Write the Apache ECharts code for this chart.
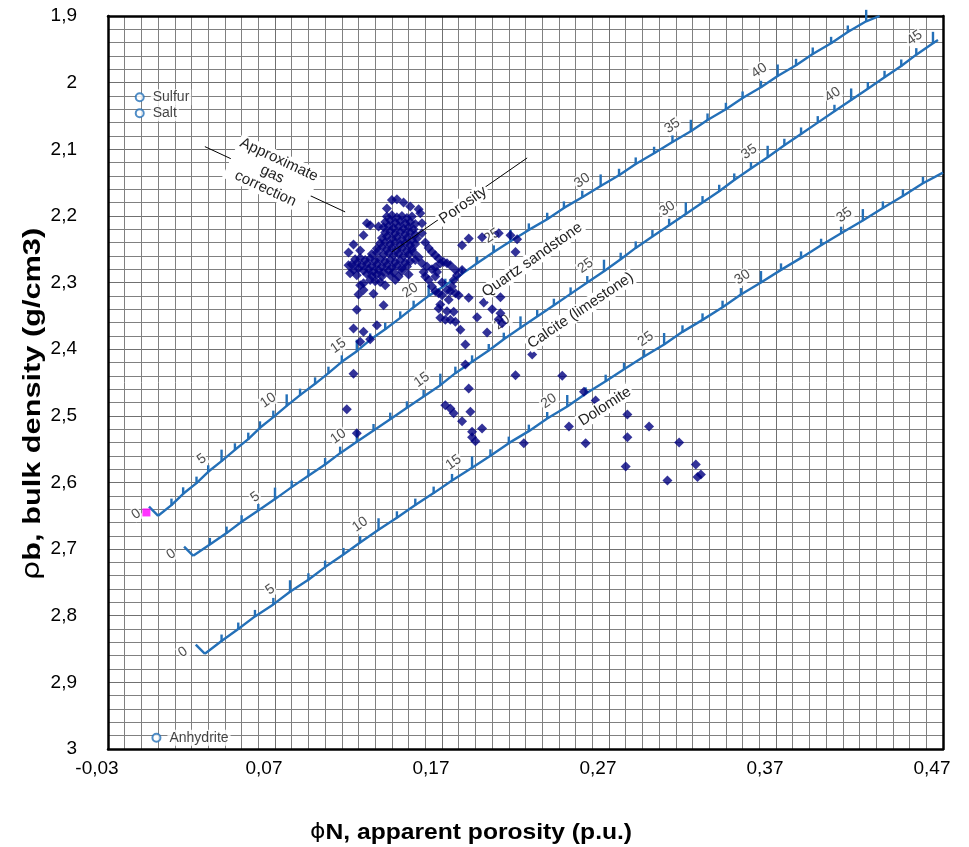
<!DOCTYPE html>
<html><head><meta charset="utf-8">
<script src="https://cdn.jsdelivr.net/npm/echarts@6/dist/echarts.min.js"></script>
<style>html,body{margin:0;padding:0;background:#fff}#c{width:969px;height:847px}</style>
</head><body><div id="c"></div>
<script>
// ---- axis ranges (values) ----
const xMin = -0.03, xMax = 0.47, xStep = 0.1;
const yMin = 1.9, yMax = 3.0, yStep = 0.1;

// ---- measured samples: [phiN, rhoB] ----
const samplesSparse = [
[0.242,2.440],[0.255,2.464],[0.262,2.477],[0.271,2.487],[0.281,2.498],[0.246,2.516],[0.294,2.516],[0.281,2.532],[0.256,2.541],[0.312,2.540],[0.280,2.576],[0.322,2.573],[0.325,2.588],[0.323,2.592],[0.305,2.597],
[0.168,2.339],[0.169,2.353],[0.172,2.356],[0.175,2.356],[0.178,2.359],[0.177,2.344],[0.191,2.352],[0.195,2.330],[0.200,2.340],[0.205,2.346],[0.204,2.355],[0.206,2.361],[0.181,2.371],[0.197,2.375],[0.184,2.393],[0.184,2.423],[0.224,2.408],[0.214,2.439],[0.186,2.459],[0.172,2.484],[0.175,2.489],[0.177,2.496],[0.187,2.494],[0.182,2.508],[0.194,2.519],[0.188,2.524],[0.188,2.532],[0.190,2.538],[0.219,2.541],
[0.120,2.318],[0.129,2.317],[0.135,2.334],[0.119,2.341],[0.131,2.364],[0.117,2.369],[0.123,2.374],[0.121,2.389],[0.127,2.385],[0.117,2.437],[0.113,2.490],[0.119,2.526],
[0.186,2.234],[0.182,2.244],[0.194,2.232],[0.204,2.226],[0.211,2.229],[0.215,2.235],[0.214,2.254],[0.210,2.288],[0.171,2.269],[0.175,2.274],[0.178,2.281],[0.177,2.296],[0.176,2.306],[0.175,2.313],[0.182,2.281],[0.180,2.319],[0.186,2.323],[0.205,2.322]
];
const samplesCluster = [
[0.114,2.255],[0.117,2.243],[0.123,2.229],[0.125,2.211],[0.127,2.214],[0.132,2.216],[0.137,2.189],[0.140,2.176],[0.143,2.175],[0.147,2.180],[0.151,2.186],[0.156,2.190],[0.157,2.196],[0.158,2.211],[0.158,2.226],[0.160,2.240],[0.123,2.301],[0.133,2.299],[0.136,2.304],[0.142,2.296],[0.144,2.291],[0.153,2.255],[0.154,2.266],[0.164,2.254],[0.166,2.259],[0.168,2.264],[0.169,2.271],[0.166,2.277],[0.167,2.284],[0.164,2.280],[0.166,2.291],[0.158,2.271],[0.159,2.284],[0.160,2.291],[0.162,2.296],[0.164,2.306],[0.166,2.313],[0.173,2.271],[0.179,2.289],[0.168,2.316],[0.170,2.319],[0.173,2.311],[0.178,2.316],[0.173,2.343],[0.121,2.252],[0.114,2.274],[0.115,2.286],[0.121,2.304],[0.123,2.311],
[0.137,2.201],[0.140,2.199],[0.143,2.202],[0.146,2.200],[0.149,2.203],[0.152,2.201],
[0.136,2.209],[0.139,2.207],[0.142,2.210],[0.145,2.208],[0.148,2.211],[0.151,2.209],[0.154,2.212],
[0.135,2.217],[0.138,2.215],[0.141,2.218],[0.144,2.216],[0.147,2.219],[0.150,2.217],[0.153,2.220],
[0.136,2.225],[0.139,2.223],[0.142,2.226],[0.145,2.224],[0.148,2.227],[0.151,2.225],[0.154,2.228],
[0.134,2.233],[0.137,2.231],[0.140,2.234],[0.143,2.232],[0.146,2.235],[0.149,2.233],[0.152,2.236],[0.155,2.234],
[0.133,2.241],[0.136,2.239],[0.139,2.242],[0.142,2.240],[0.145,2.243],[0.148,2.241],[0.151,2.244],[0.154,2.242],
[0.131,2.249],[0.134,2.247],[0.137,2.250],[0.140,2.248],[0.143,2.251],[0.146,2.249],[0.149,2.252],[0.152,2.250],
[0.128,2.257],[0.131,2.255],[0.135,2.258],[0.138,2.256],[0.141,2.259],[0.144,2.257],[0.147,2.260],[0.150,2.258],
[0.118,2.265],[0.121,2.263],[0.124,2.266],[0.127,2.264],[0.130,2.267],[0.133,2.265],[0.136,2.268],[0.139,2.266],[0.142,2.269],[0.145,2.267],[0.148,2.270],[0.151,2.268],
[0.116,2.273],[0.119,2.271],[0.122,2.274],[0.125,2.272],[0.128,2.275],[0.131,2.273],[0.134,2.276],[0.137,2.274],[0.140,2.277],[0.143,2.275],[0.146,2.278],[0.149,2.276],
[0.117,2.281],[0.120,2.279],[0.123,2.282],[0.126,2.280],[0.129,2.283],[0.132,2.281],[0.135,2.284],[0.138,2.282],[0.141,2.285],[0.146,2.283],
[0.119,2.289],[0.125,2.287],[0.128,2.290],[0.131,2.288],[0.134,2.291],[0.139,2.289],[0.150,2.288],
[0.127,2.296],[0.130,2.298],[0.162,2.248],[0.156,2.262],[0.161,2.276],[0.170,2.300],[0.174,2.326],[0.169,2.333]
];

// ---- lithology lines: value at each porosity unit 0,1,2,... ----
const sandPhiN = [0.000,0.008,0.015,0.023,0.030,0.038,0.046,0.054,0.061,0.069,0.077,0.085,0.094,0.102,0.110,0.119,0.127,0.136,0.145,0.153,0.162,0.172,0.182,0.191,0.201,0.211,0.222,0.233,0.243,0.254,0.265,0.276,0.286,0.297,0.308,0.319,0.329,0.340,0.350,0.361,0.371,0.382,0.392,0.403,0.413,0.424];
const sandRhoB = [2.650,2.634,2.617,2.601,2.584,2.568,2.551,2.535,2.518,2.502,2.485,2.469,2.452,2.436,2.419,2.403,2.386,2.370,2.353,2.337,2.320,2.304,2.287,2.271,2.254,2.238,2.221,2.205,2.188,2.172,2.155,2.139,2.122,2.106,2.089,2.073,2.056,2.040,2.023,2.007,1.990,1.974,1.957,1.941,1.924,1.908];
const sandEnd = [0.432, 1.900];
const limePhiN = [0.021,0.031,0.041,0.050,0.060,0.070,0.080,0.090,0.100,0.109,0.119,0.129,0.139,0.149,0.159,0.169,0.178,0.188,0.198,0.207,0.217,0.227,0.237,0.247,0.257,0.267,0.277,0.286,0.296,0.306,0.316,0.326,0.336,0.345,0.355,0.365,0.375,0.385,0.395,0.405,0.415,0.425,0.435,0.445,0.454,0.464];
const limeRhoB = [2.710,2.693,2.676,2.659,2.642,2.625,2.607,2.590,2.573,2.556,2.539,2.522,2.505,2.488,2.471,2.454,2.436,2.419,2.402,2.385,2.368,2.351,2.334,2.317,2.300,2.283,2.265,2.248,2.231,2.214,2.197,2.180,2.163,2.146,2.129,2.112,2.094,2.077,2.060,2.043,2.026,2.009,1.992,1.975,1.958,1.941];
const limeEnd = [0.467, 1.936];
const dolPhiN = [0.028,0.038,0.048,0.058,0.069,0.079,0.090,0.100,0.111,0.121,0.132,0.143,0.154,0.165,0.176,0.188,0.199,0.210,0.222,0.233,0.245,0.256,0.268,0.279,0.291,0.303,0.314,0.326,0.338,0.349,0.361,0.373,0.385,0.397,0.409,0.422,0.434,0.446,0.458];
const dolRhoB = [2.857,2.838,2.820,2.801,2.783,2.764,2.746,2.727,2.708,2.690,2.671,2.653,2.634,2.616,2.597,2.578,2.560,2.541,2.523,2.504,2.486,2.467,2.448,2.430,2.411,2.393,2.374,2.356,2.337,2.318,2.300,2.281,2.263,2.244,2.226,2.207,2.188,2.170,2.151];
const dolEnd = [0.470, 2.135];

// ---- reference minerals ----
const mineralNames = ['Sulfur','Salt','Anhydrite'];
const mineralPhiN = [-0.011,-0.011,-0.001];
const mineralRhoB = [2.022,2.046,2.983];
const quartzPoint = [-0.007, 2.645];

const BLUE = '#2470b8';
const FONT = 'Liberation Sans, Arial, sans-serif';

function lineSeries(phiN, rhoB, endPt) {
  const data = phiN.map((x, i) => {
    const major = i % 5 === 0;
    const it = {value: [x, rhoB[i]], symbolSize: major ? [2.4, 12] : [2.4, 7], symbolOffset: major ? [0, -5.5] : [0, -3]};
    if (i === 0) { it.symbolSize = [2.4, 13]; it.symbolRotate = 45; it.symbolOffset = [-4.5, -4.5]; }
    return it;
  });
  if (endPt) data.push({value: endPt, symbol: 'none'});
  return {type: 'line', data, symbol: 'rect', showAllSymbol: true, z: 3, silent: true,
    lineStyle: {color: BLUE, width: 2.4}, itemStyle: {color: BLUE}};
}
function labelSeries(phiN, rhoB, lastIdx) {
  const data = [];
  phiN.forEach((x, i) => {
    if (i % 5 !== 0 || i > lastIdx) return;
    const off = i === 0 ? [-17, -14] : (i < 10 ? [-15, -13] : [-12, -15]);
    data.push({value: [x, rhoB[i]], label: {formatter: String(i), offset: off}});
  });
  return {type: 'scatter', data, symbol: 'circle', symbolSize: 1, z: 4, silent: true,
    itemStyle: {color: 'rgba(0,0,0,0)'},
    label: {show: true, position: 'inside', rotate: 35, fontSize: 14, fontFamily: FONT, color: '#222',
      backgroundColor: '#fff', padding: [0, 1]}};
}

const chart = echarts.init(document.getElementById('c'), null, {renderer: 'canvas'});
const frame = {show: true, onZero: false, lineStyle: {color: '#000', width: 2.5}};
const option = {
  animation: false,
  backgroundColor: '#fff',
  grid: {left: 108, top: 16, width: 835, height: 733, show: false},
  xAxis: [{
    type: 'value', min: xMin, max: xMax, interval: xStep,
    axisLine: frame, axisTick: {show: false},
    axisLabel: {fontSize: 19, fontFamily: FONT, color: '#000', margin: 10, padding: [0, 22, 0, 0],
      formatter: v => (Math.round(v * 100) / 100).toFixed(2).replace('.', ',')},
    splitLine: {show: true, lineStyle: {color: '#707070', width: 1}},
    minorTick: {show: false, splitNumber: 10},
    minorSplitLine: {show: true, lineStyle: {color: '#808080', width: 1}}
  }, {
    type: 'value', position: 'top', min: xMin, max: xMax, interval: xStep,
    axisLine: frame, axisTick: {show: false}, axisLabel: {show: false}, splitLine: {show: false}
  }],
  yAxis: [{
    type: 'value', inverse: true, min: yMin, max: yMax, interval: yStep,
    axisLine: frame, axisTick: {show: false},
    axisLabel: {fontSize: 19, fontFamily: FONT, color: '#000', margin: 31,
      formatter: v => String(Math.round(v * 10) / 10).replace('.', ',')},
    splitLine: {show: true, lineStyle: {color: '#707070', width: 1}},
    minorTick: {show: false, splitNumber: 5},
    minorSplitLine: {show: true, lineStyle: {color: '#808080', width: 1}}
  }, {
    type: 'value', position: 'right', inverse: true, min: yMin, max: yMax, interval: yStep,
    axisLine: frame, axisTick: {show: false}, axisLabel: {show: false}, splitLine: {show: false}
  }],
  series: [
    lineSeries(sandPhiN, sandRhoB, sandEnd),
    lineSeries(limePhiN, limeRhoB, limeEnd),
    lineSeries(dolPhiN, dolRhoB, dolEnd),
    labelSeries(sandPhiN, sandRhoB, 40),
    labelSeries(limePhiN, limeRhoB, 45),
    labelSeries(dolPhiN, dolRhoB, 35),
    {
      type: 'scatter', data: samplesSparse.concat(samplesCluster), symbol: 'diamond', symbolSize: 10, z: 5, silent: true,
      itemStyle: {color: '#000080'},
      markLine: {
        silent: true, symbol: ['none', 'arrow'], symbolSize: [0, 9], z: 6,
        lineStyle: {color: '#000', width: 1, type: 'solid'}, label: {show: false},
        data: [
          [{coord: [0.028, 2.096]}, {coord: [0.112, 2.194]}],
          [{coord: [0.140, 2.254]}, {coord: [0.221, 2.113]}]
        ]
      }
    },
    {
      type: 'scatter', symbol: 'emptyCircle', symbolSize: 8, z: 6, silent: true,
      data: mineralNames.map((n, i) => ({name: n, value: [mineralPhiN[i], mineralRhoB[i]]})),
      itemStyle: {color: BLUE, borderColor: BLUE, borderWidth: 2},
      label: {show: true, position: 'right', distance: 6, formatter: '{b}', fontSize: 14, fontFamily: FONT,
        color: '#111', backgroundColor: '#fff', padding: [1, 2]}
    },
    {
      type: 'scatter', symbol: 'rect', symbolSize: 8, z: 6, silent: true,
      data: [quartzPoint], itemStyle: {color: '#ff00ff'}
    }
  ]
};
chart.setOption(option);

const P = (x, y) => chart.convertToPixel({gridIndex: 0}, [x, y]);
const deg = d => d * Math.PI / 180;
function annot(text, x, y, rot, size) {
  const p = P(x, y);
  return {type: 'text', x: p[0], y: p[1], rotation: deg(rot), z: 50, silent: true,
    style: {text, fill: '#222', font: (size || 15) + 'px ' + FONT, align: 'center', verticalAlign: 'middle',
      textAlign: 'center', textVerticalAlign: 'middle', backgroundColor: '#fff', padding: [0, 2], lineHeight: 16}};
}
chart.setOption({graphic: [
  annot('Quartz sandstone', 0.224, 2.266, 35),
  annot('Calcite (limestone)', 0.253, 2.342, 34),
  annot('Dolomite', 0.2676, 2.486, 33),
  annot('Porosity', 0.1826, 2.184, 35),
  annot('Approximate\ngas\ncorrection', 0.0683, 2.1374, -25),
  {type: 'text', x: 471, y: 833, z: 50, silent: true, scaleX: 1.12,
    style: {text: '{s|\u03D5}{b|N, apparent porosity (p.u.)}', align: 'center', verticalAlign: 'middle',
      textAlign: 'center', textVerticalAlign: 'middle', fill: '#000',
      rich: {s: {fontFamily: 'DejaVu Sans', fontSize: 21, fill: '#000'},
             b: {fontFamily: FONT, fontSize: 22, fontWeight: 'bold', fill: '#000'}}}},
  {type: 'text', x: 33, y: 404, rotation: Math.PI / 2, z: 50, silent: true, scaleX: 1.28,
    style: {text: '{s|\u03C1}{b|b, bulk density (g/cm3)}', align: 'center', verticalAlign: 'middle',
      textAlign: 'center', textVerticalAlign: 'middle', fill: '#000',
      rich: {s: {fontFamily: 'DejaVu Sans', fontSize: 24, fill: '#000'},
             b: {fontFamily: FONT, fontSize: 24, fontWeight: 'bold', fill: '#000'}}}}
]});
</script></body></html>
